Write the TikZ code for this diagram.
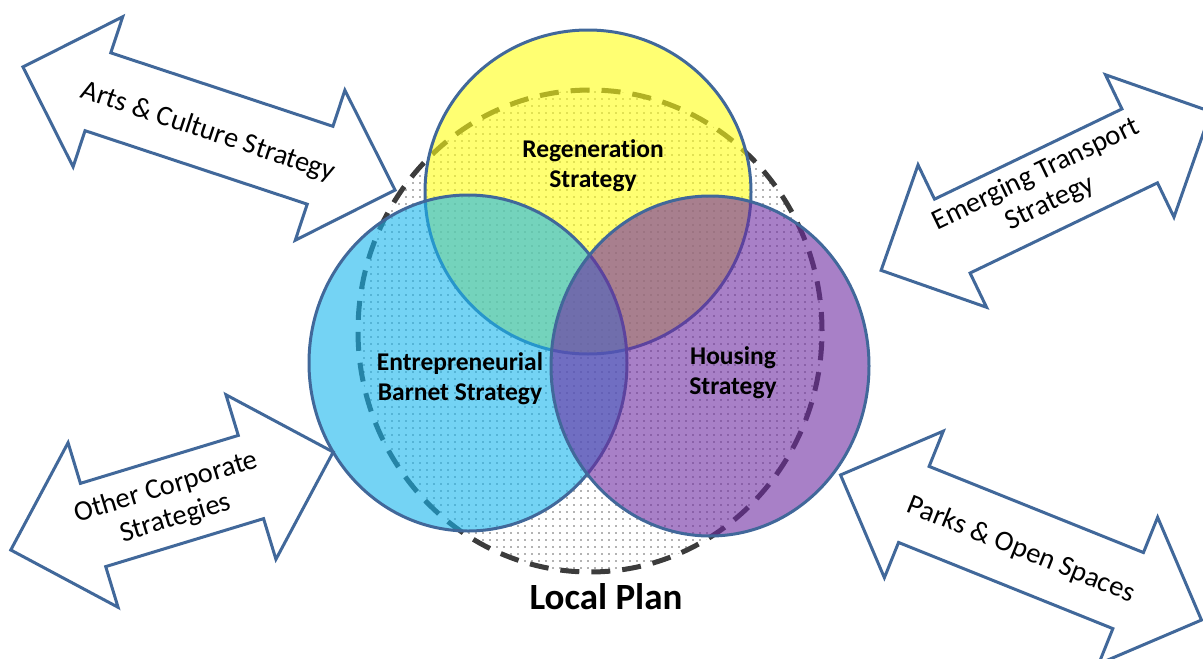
\documentclass[tikz,border=0pt]{standalone}
\usepackage{fontspec}
\setmainfont{Carlito}[Ligatures=NoCommon]
\usetikzlibrary{shapes.geometric, shapes.arrows, patterns.meta}

\definecolor{edgeblue}{HTML}{41689A}
\definecolor{plangrey}{HTML}{3C3C3C}
\definecolor{regenfill}{RGB}{255,255,20}
\definecolor{barnetfill}{RGB}{23,181,237}
\definecolor{housingfill}{RGB}{110,43,161}

\begin{document}
\begin{tikzpicture}[x=1pt, y=-1pt,
                    venn/.style={ellipse, draw=edgeblue, line width=3pt, fill opacity=0.6, inner sep=0},
                    vtext/.style={align=center, font=\fontsize{25.5}{30}\selectfont\bfseries},
                    twoway/.style={double arrow, draw=edgeblue, line width=3pt, fill=white,
                                   inner xsep=0, inner ysep=39.5pt, double arrow head extend=38pt},
                    atext/.style={align=center, inner sep=0, font=\fontsize{28.5}{32}\selectfont}]
                \useasboundingbox (0,0) rectangle (1203,659);

                % the plan area, dotted
                \node (plan) [ellipse, minimum width=464pt, minimum height=482pt, inner sep=0,
                              draw=plangrey, line width=5pt, dash pattern=on 19pt off 12pt,
                              pattern={Dots[distance=7pt, radius=0.9pt]}, pattern color=black!60] at (590,331) {};

                \node (regen) [venn, fill=regenfill, minimum width=326pt, minimum height=324pt] at (588,192) {};
                \node (barnet) [venn, fill=barnetfill, minimum width=318pt, minimum height=336pt] at (468,363) {};
                \node (housing) [venn, fill=housingfill, minimum width=318pt, minimum height=340pt] at (710,366) {};

                \node (regentext) [vtext] at (593,166) {Regeneration\\Strategy};
                \node (barnettext) [vtext] at (460,379) {Entrepreneurial\\Barnet Strategy};
                \node (housingtext) [vtext] at (733,373) {Housing\\Strategy};
                \node (plantext) [font=\fontsize{37}{40}\selectfont\bfseries] at (606,597) {Local Plan};

                % strategies round the plan
                \node (arts) [twoway, minimum height=392pt, rotate=-18.3] at (209,128.5) {};
                \node (transport) [twoway, minimum height=366pt, rotate=25.7] at (1046,191) {};
                \node (corporate) [twoway, minimum height=337pt, inner ysep=42pt,
                                   double arrow head extend=42.5pt, rotate=16.9] at (172,501) {};
                \node (parks) [twoway, minimum height=389pt, rotate=-21.9] at (1021,547.5) {};

                \node (artstext) [atext, rotate=-18.3] at (208,132) {Arts \& Culture Strategy};
                \node (transporttext) [atext, rotate=25.7] at (1043,189) {Emerging Transport\\Strategy};
                \node (corporatetext) [atext, rotate=16.9] at (171,503) {Other Corporate\\Strategies};
                \node (parkstext) [atext, rotate=-21.9] at (1021,550) {Parks \& Open Spaces};
            \end{tikzpicture}
\end{document}
